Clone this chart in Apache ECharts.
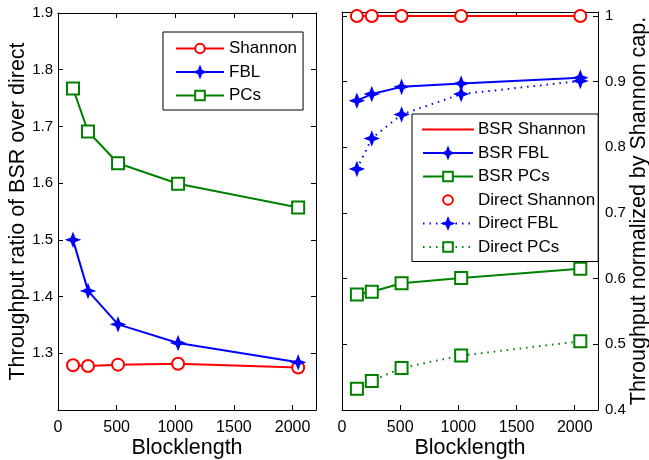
<!DOCTYPE html>
<html>
<head>
<meta charset="utf-8">
<script src="https://cdn.jsdelivr.net/npm/echarts@6/dist/echarts.min.js"></script>
<style>
  html, body { margin: 0; padding: 0; background: #fff; }
  #chart { width: 649px; height: 460px; }
</style>
</head>
<body>
<div id="chart"></div>
<script>
// blocklengths
const blocklength = [128, 256, 512, 1024, 2048]

// left panel: throughput ratio BSR / direct
const ratioShannon = [1.279, 1.2775, 1.280, 1.2815, 1.275]
const ratioFBL = [1.500, 1.410, 1.351, 1.318, 1.284]
const ratioPCs = [1.767, 1.691, 1.635, 1.599, 1.557]

// right panel: throughput normalized by Shannon capacity
const bsrShannon = [1, 1, 1, 1, 1]
const bsrFBL = [0.871, 0.881, 0.892, 0.897, 0.906]
const bsrPCs = [0.576, 0.580, 0.593, 0.601, 0.615]
const directShannon = [1, 1, 1, 1, 1]
const directFBL = [0.767, 0.8135, 0.850, 0.881, 0.901]
const directPCs = [0.4325, 0.444, 0.464, 0.483, 0.5045]

const FONT = 'Liberation Sans'
const RED = '#ff0000'
const BLUE = '#0000ff'
const GREEN = '#008000'
const STAR = 'path://M5,0 L6.4,3.6 L10,5 L6.4,6.4 L5,10 L3.6,6.4 L0,5 L3.6,3.6Z'
const LINE_ICON = 'path://M0,0 L50,0 L50,0.01 L0,0.01Z'

const pairs = (ys) => blocklength.map((x, i) => [x, ys[i]])

const chart = echarts.init(document.getElementById('chart'))

const xBase = (grid, pos, labels) => ({
  type: 'value', gridIndex: grid, position: pos, min: 0, max: 2200, interval: 500,
  axisLine: { show: true, onZero: false, lineStyle: { color: '#000', width: 1 } },
  axisTick: { show: true, inside: true, length: 5, lineStyle: { color: '#000' } },
  axisLabel: {
    show: labels, showMaxLabel: false, color: '#000', fontFamily: FONT, fontSize: 16, margin: 10,
    formatter: (v) => String(v)
  },
  splitLine: { show: false },
  name: labels ? 'Blocklength' : '', nameLocation: 'middle', nameGap: 27, nameMoveOverlap: false,
  nameTextStyle: { color: '#000', fontFamily: FONT, fontSize: 21.5 }
})

const yBase = (grid, pos, min, max, labels, name, showMin) => ({
  type: 'value', gridIndex: grid, position: pos, min: min, max: max, interval: 0.1,
  axisLine: { show: true, onZero: false, lineStyle: { color: '#000', width: 1 } },
  axisTick: { show: true, inside: true, length: 5, lineStyle: { color: '#000' } },
  axisLabel: {
    show: labels, showMinLabel: showMin, showMaxLabel: true, color: '#000', fontFamily: FONT, fontSize: 15,
    margin: pos === 'left' ? 5 : 7,
    formatter: (v) => (Math.abs(v - Math.round(v * 10) / 10) > 1e-6 ? '' : String(Math.round(v * 10) / 10))
  },
  splitLine: { show: false },
  name: labels ? name : '', nameLocation: 'middle', nameGap: pos === 'left' ? 29 : 30, nameMoveOverlap: false,
  nameRotate: 90,
  nameTextStyle: { color: '#000', fontFamily: FONT, fontSize: 21.5 }
})

const lineSeries = (name, x, y, data, color, symbol, dotted) => ({
  name: name, type: 'line', xAxisIndex: x, yAxisIndex: y, data: pairs(data),
  symbol: symbol, symbolSize: symbol === STAR ? 11 : 12, showSymbol: symbol !== 'none',
  lineStyle: { color: color, width: 2, type: dotted ? [1.5, 5] : 'solid' },
  itemStyle: { color: color, borderColor: color, borderWidth: 2 },
  emphasis: { disabled: true }, animation: false, z: 3
})

const legendBase = {
  orient: 'vertical', align: 'left', borderColor: '#000', borderWidth: 1, backgroundColor: '#fff',
  itemWidth: 48, itemHeight: 12, itemGap: 6.5,
  textStyle: { color: '#000', fontFamily: FONT, fontSize: 17 },
  selectedMode: false
}

const option = {
  backgroundColor: '#fff',
  animation: false,
  grid: [
    { left: 58, right: 333, top: 13, bottom: 50, outerBoundsMode: 'none', containLabel: false },
    { left: 342, right: 51, top: 12, bottom: 50, outerBoundsMode: 'none', containLabel: false }
  ],
  xAxis: [
    xBase(0, 'bottom', true),
    xBase(0, 'top', false),
    xBase(1, 'bottom', true),
    xBase(1, 'top', false)
  ],
  yAxis: [
    yBase(0, 'left', 1.2, 1.9, true, 'Throughput ratio of BSR over direct', false),
    yBase(0, 'right', 1.2, 1.9, false, '', false),
    yBase(1, 'right', 0.4, 1.006, true, 'Throughput normalized by Shannon cap.', true),
    yBase(1, 'left', 0.4, 1.006, false, '', true)
  ],
  legend: [
    Object.assign({}, legendBase, {
      left: 163, top: 32, padding: [8, 6, 6, 12],
      data: ['Shannon', 'FBL', 'PCs']
    }),
    Object.assign({}, legendBase, {
      left: 412, top: 114, padding: [7, 3, 6, 10], itemWidth: 50,
      data: [
        { name: 'BSR Shannon', icon: LINE_ICON },
        'BSR FBL', 'BSR PCs', 'Direct Shannon', 'Direct FBL', 'Direct PCs'
      ]
    })
  ],
  series: [
    lineSeries('Shannon', 0, 0, ratioShannon, RED, 'emptyCircle', false),
    lineSeries('FBL', 0, 0, ratioFBL, BLUE, STAR, false),
    lineSeries('PCs', 0, 0, ratioPCs, GREEN, 'emptyRect', false),
    lineSeries('BSR Shannon', 2, 2, bsrShannon, RED, 'none', false),
    lineSeries('BSR FBL', 2, 2, bsrFBL, BLUE, STAR, false),
    lineSeries('BSR PCs', 2, 2, bsrPCs, GREEN, 'emptyRect', false),
    Object.assign(lineSeries('Direct Shannon', 2, 2, directShannon, RED, 'emptyCircle', false), {
      lineStyle: { color: RED, width: 2, opacity: 0 }
    }),
    lineSeries('Direct FBL', 2, 2, directFBL, BLUE, STAR, true),
    lineSeries('Direct PCs', 2, 2, directPCs, GREEN, 'emptyRect', true)
  ]
}

chart.setOption(option)
</script>
</body>
</html>
